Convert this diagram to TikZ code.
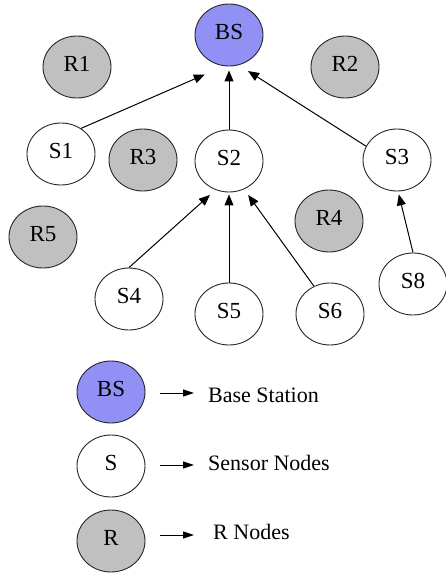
\documentclass[tikz,border=0pt]{standalone}
\usepackage{fontspec}
\setmainfont{Liberation Serif}
\usetikzlibrary{shapes.geometric,arrows.meta}
\definecolor{bsblue}{RGB}{145,145,245}
\definecolor{rgrey}{RGB}{192,192,192}
\tikzset{
  nd/.style={ellipse, draw=black!85, line width=0.9pt, minimum width=68pt, minimum height=62pt, inner sep=0pt, text height=15pt, text depth=6pt, font=\fontsize{23}{27}\selectfont},
  bsn/.style={nd, fill=bsblue},
  sn/.style={nd, fill=white},
  rn/.style={nd, fill=rgrey},
  arr/.style={line width=1pt, -{Triangle[length=11pt,width=9pt]}},
  larr/.style={line width=1pt, -{Triangle[length=11pt,width=7pt]}},
  lbl/.style={anchor=base west, inner sep=0pt, font=\fontsize{22}{26}\selectfont}
}
\begin{document}
\begin{tikzpicture}[x=1pt,y=-1pt]
\useasboundingbox (0,0) rectangle (446,575);
% nodes
\node[bsn] (bs) at (229,35) {BS};
\node[rn] (r1) at (77,67) {R1};
\node[rn] (r2) at (345,67) {R2};
\node[sn] (s1) at (61,154) {S1};
\node[rn] (r3) at (143,160) {R3};
\node[sn] (s2) at (229,161) {S2};
\node[sn] (s3) at (397,160) {S3};
\node[rn] (r4) at (329,221) {R4};
\node[rn] (r5) at (43,237) {R5};
\node[sn] (s4) at (129,299) {S4};
\node[sn] (s5) at (229,314) {S5};
\node[sn] (s6) at (330,314) {S6};
\node[sn] (s8) at (413,284) {S8};
% connectors
\draw[arr, shorten >=21pt] (s1.52) -- (bs.261);
\draw[arr, shorten >=4pt] (s2.90) -- (bs.270);
\draw[arr, shorten >=11pt] (s3.156) -- (bs.288);
\draw[arr, shorten >=7.5pt] (s4.90) -- (s2.245);
\draw[arr, shorten >=2pt] (s5.90) -- (s2.270);
\draw[arr, shorten >=7pt] (s6.120) -- (s2.298);
\draw[arr, shorten >=3pt] (s8.90) -- (s3.272);
% legend
\node[bsn] (lbs) at (111,392) {BS};
\node[sn] (ls) at (111,466) {S};
\node[rn] (lr) at (111,541) {R};
\node[lbl] (tbs) at (208,402) {Base Station};
\node[lbl] (ts) at (208,470) {Sensor Nodes};
\node[lbl] (tr) at (213,539) {R Nodes};
\coordinate (tbsw) at (tbs.base west);
\coordinate (tsw) at (ts.base west);
\coordinate (trw) at (tr.base west);
\draw[larr] ([shift={(15pt,-1pt)}]lbs.east) -- ([shift={(-14pt,9pt)}]tbsw);
\draw[larr] ([shift={(15pt,1pt)}]ls.east) -- ([shift={(-14pt,5pt)}]tsw);
\draw[larr] ([shift={(15pt,6pt)}]lr.east) -- ([shift={(-19pt,4pt)}]trw);
\end{tikzpicture}
\end{document}
